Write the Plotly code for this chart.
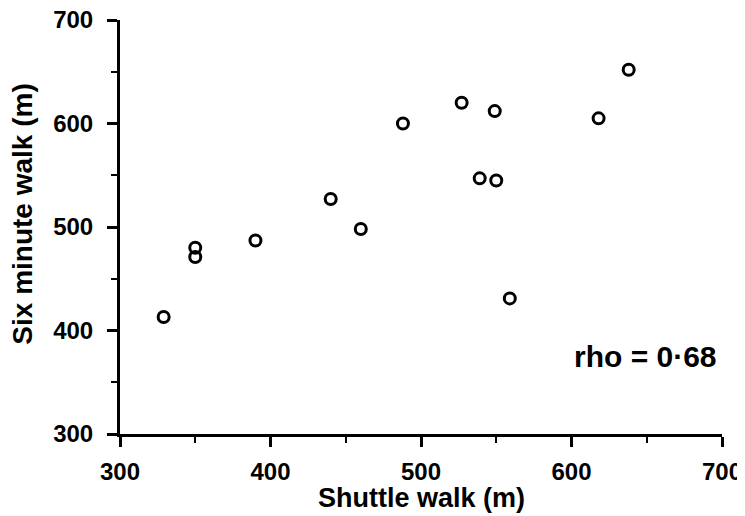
import plotly.graph_objects as go

shuttle_walk = [329, 350, 350, 390, 440, 460, 488, 527, 539, 549, 550, 559, 618, 638]
six_minute_walk = [413, 480, 471, 487, 527, 498, 600, 620, 547, 612, 545, 431, 605, 652]
tick_vals = [300, 400, 500, 600, 700]
x_title = "Shuttle walk (m)"
y_title = "Six minute walk (m)"
rho_label = "rho = 0·68"

FONT = "Liberation Sans, Arial, sans-serif"

fig = go.Figure()
fig.add_trace(go.Scatter(
    x=shuttle_walk, y=six_minute_walk, mode="markers",
    marker=dict(symbol="circle-open", size=11, color="black", line=dict(width=3, color="black")),
    cliponaxis=False, showlegend=False,
))

axis_common = dict(
    range=[300, 700], tickvals=tick_vals, showgrid=False, zeroline=False,
    showline=True, linecolor="black", linewidth=3, automargin=False,
    ticks="outside", ticklen=10, tickwidth=2.5, tickcolor="black",
    ticklabeloverflow="allow",
    tickfont=dict(family=FONT, size=24, color="black", weight="bold"),
    minor=dict(dtick=50, ticks="outside", ticklen=6, tickwidth=2, tickcolor="black", showgrid=False),
)
fig.update_xaxes(**axis_common, ticklabelstandoff=4)
fig.update_yaxes(**axis_common, ticklabelstandoff=9)

fig.add_annotation(x=0.5, xref="paper", y=0, yref="paper", yshift=-47, yanchor="top",
                   text=x_title, showarrow=False,
                   font=dict(family=FONT, size=27, color="black", weight="bold"))
fig.add_annotation(x=0, xref="paper", xshift=-80, xanchor="right", y=0.531, yref="paper",
                   text=y_title, showarrow=False, textangle=-90,
                   font=dict(family=FONT, size=28, color="black", weight="bold"))
fig.add_annotation(x=649, y=375, xref="x", yref="y", text=rho_label, showarrow=False,
                   font=dict(family=FONT, size=30, color="black", weight="bold"))

fig.update_layout(
    width=737, height=508, plot_bgcolor="white", paper_bgcolor="white",
    margin=dict(l=112, r=23, t=12, b=82),
)
fig.write_html("out.html")
